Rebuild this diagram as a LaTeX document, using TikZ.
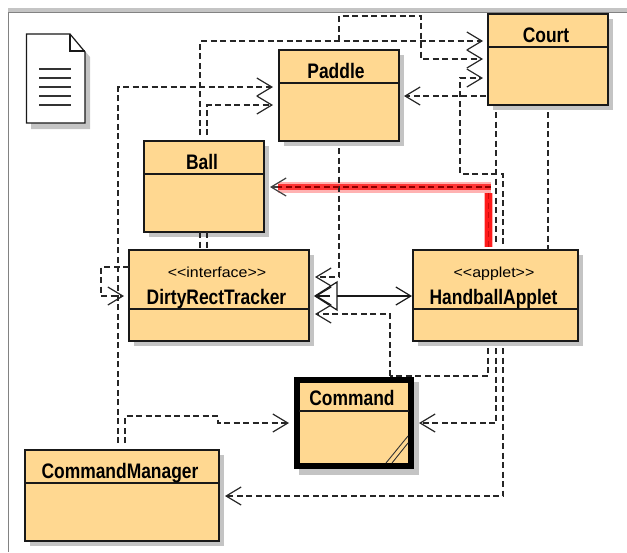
\documentclass[tikz,border=0pt]{standalone}
\usepackage{fontspec}
\setmainfont{Liberation Sans}
\newfontfamily\namefont[FakeStretch=0.83]{Liberation Sans}
\newfontfamily\kindfont[FakeStretch=1.1]{Liberation Sans}
\usetikzlibrary{arrows.meta}
\definecolor{classfill}{RGB}{255,216,145}
\definecolor{shadowgray}{RGB}{196,196,196}
\definecolor{framegray}{RGB}{130,130,130}
\tikzset{
	x=1pt, y=-1pt,
	classbox/.style={draw=black!90, line width=1.3pt, fill=classfill, inner sep=0pt, outer sep=0pt},
	boxshadow/.style={fill=shadowgray},
	divider/.style={draw=black!90, line width=1.2pt},
	classname/.style={font=\namefont\bfseries\fontsize{21}{21}\selectfont, inner sep=0pt, anchor=base},
	stereotype/.style={font=\kindfont\fontsize{14.5}{15}\selectfont, inner sep=0pt, anchor=base},
	dep/.style={draw=black!85, line width=1.1pt, dash pattern=on 6pt off 3.5pt},
	open/.style={-{Straight Barb[length=15pt, width=18pt, line width=1.2pt]}},
	glow/.style={draw=red, line width=11pt, opacity=0.3},
	glowcore/.style={draw=red, line width=6.5pt, opacity=0.7},
}
\newcommand{\umlclass}[6]{% name, x0, y0, x1, y1, divider y
	\fill[boxshadow] (#2+5,#3+5) rectangle (#4+5,#5+5);
	\node[classbox, minimum width=#4pt-#2pt, minimum height=#5pt-#3pt, anchor=north west] (#1) at (#2,#3) {};
	\draw[divider] (#2,#6) -- (#4,#6);
}
\begin{document}
\begin{tikzpicture}
	\useasboundingbox (0,0) rectangle (627,552);

	% frame
	\fill[shadowgray] (8,8) rectangle (627,12);
	\draw[framegray, line width=1pt] (627,12.5) -- (8.5,12.5) -- (8.5,552);

	% note icon
	\fill[boxshadow] (31,39) -- (75,39) -- (90,57) -- (90,129) -- (31,129) -- cycle;
	\draw[black!90, line width=1.2pt, fill=white] (26.5,34) -- (70,34) -- (85,52) -- (85,123) -- (26.5,123) -- cycle;
	\draw[black!90, line width=1.2pt] (70,34) -- (70,51) -- (85,51);
	\foreach \ypos in {69,78,87,96,105}
		\draw[black!80, line width=1.2pt] (39,\ypos) -- (71,\ypos);

	% classes
	\umlclass{ball}{144}{141}{264}{232}{174}
	\umlclass{paddle}{279}{50}{399}{141}{83}
	\umlclass{court}{488}{14}{608}{105}{47}
	\umlclass{tracker}{129}{250}{309}{341}{309}
	\umlclass{applet}{413}{250}{578}{341}{309}
	\umlclass{manager}{25}{450}{219}{541}{483}

	% command, heavy border
	\fill[boxshadow] (299,382) rectangle (419,475);
	\node[draw=black, line width=6pt, fill=classfill, inner sep=0pt, outer sep=0pt, minimum width=114pt, minimum height=86pt, anchor=north west] (command) at (297,380) {};
	\draw[divider] (299,411) -- (409,411);
	\draw[black!80, line width=0.9pt] (386,463) -- (408,436);
	\draw[black!80, line width=0.9pt] (392,463) -- (408,443);

	% names
	\node[classname] (courtname) at (546,42) {Court};
	\node[classname] (paddlename) at (336,78) {Paddle};
	\node[classname] (ballname) at (202,169) {Ball};
	\node[stereotype] (trackerkind) at (217,277) {<{}<interface>{}>};
	\node[classname] (trackername) at (216.5,304) {DirtyRectTracker};
	\node[stereotype] (appletkind) at (494,277) {<{}<applet>{}>};
	\node[classname] (appletname) at (493.5,304) {HandballApplet};
	\node[classname] (commandname) at (352,405) {Command};
	\node[classname] (managername) at (120,478) {CommandManager};

	% free ends of the connectors
	\coordinate (courtinA) at (483,41);
	\coordinate (courtinB) at (483,59);
	\coordinate (courtinC) at (483,78);
	\coordinate (courtoutL) at (496,112);
	\coordinate (courtoutR) at (548,112);
	\coordinate (courtleft) at (486,96);
	\coordinate (paddleinA) at (273,87);
	\coordinate (paddleinB) at (273,105);
	\coordinate (paddleout) at (404,96);
	\coordinate (paddledown) at (339,148);
	\coordinate (paddleup) at (339,41);
	\coordinate (ballin) at (270,187);
	\coordinate (ballupA) at (200,135);
	\coordinate (ballupB) at (207,135);
	\coordinate (trackerinA) at (315,277);
	\coordinate (trackerinB) at (315,296);
	\coordinate (trackerinC) at (315,314);
	\coordinate (trackerinD) at (124,296);
	\coordinate (trackerleft) at (129,267);
	\coordinate (triangleend) at (337,296);
	\coordinate (appletin) at (412,296);
	\coordinate (appletupA) at (488.5,247);
	\coordinate (appletupB) at (496,244);
	\coordinate (appletupC) at (503,244);
	\coordinate (appletdownA) at (488,348);
	\coordinate (appletdownB) at (496,348);
	\coordinate (appletdownC) at (503,348);
	\coordinate (commandup) at (390,376);
	\coordinate (commandinL) at (289,423);
	\coordinate (commandinR) at (419,423);
	\coordinate (managerin) at (225,496);
	\coordinate (managerupA) at (118,443);
	\coordinate (managerupB) at (125,443);
	\coordinate (bandcorner) at (491,187);
	\coordinate (bandstart) at (278,187);

	% highlight
	\draw[glow] (bandstart) -- (bandcorner);
	\draw[glowcore] (bandstart) -- (bandcorner);
	\draw[glow, line width=9pt] (488.5,193) -- (appletupA);
	\draw[glowcore, opacity=0.85] (488.5,193) -- (appletupA);

	% ball to court, ball to paddle
	\draw[dep, open] (ballupA) -- (200,41) -- (courtinA);
	\draw[dep, open] (ballupB) -- (207,105) -- (paddleinB);
	\draw[dep] (ball.south -| ballupA) -- (tracker.north -| ballupA);
	\draw[dep] (ball.south -| ballupB) -- (tracker.north -| ballupB);

	% manager to paddle, manager to command
	\draw[dep, open] (managerupA) -- (118,87) -- (paddleinA);
	\draw[dep, open] (managerupB) -- (125,416) -- (218,416) -- (218,423) -- (commandinL);

	% tracker to itself
	\draw[dep, open] (trackerleft) -- (101,267) -- (101,296) -- (trackerinD);

	% paddle and court
	\draw[dep, open] (paddleup) -- (339,16) -- (421,16) -- (421,59) -- (courtinB);
	\draw[dep, open] (courtleft) -- (paddleout);
	\draw[dep, open] (paddledown) -- (339,277) -- (trackerinA);

	% applet and court
	\draw[dep, open] (appletupC) -- (503,174) -- (460,174) -- (460,78) -- (courtinC);
	\draw[dep] (courtoutL) -- (appletupB);
	\draw[dep] (courtoutR) -- (applet.north -| courtoutR);

	% applet to ball
	\draw[dep, draw=red!55!black] (bandcorner) -- (bandstart);
	\draw[dep, open, draw=black!75] (bandstart) -- (ballin);
	\draw[dep, draw=red!70!black, opacity=0.6] (488.5,193) -- (appletupA);

	% applet and tracker
	\draw[black!90, line width=1.2pt, fill=white] (trackerinB) -- (337,282) -- (337,310) -- cycle;
	\draw[black!90, line width=1.2pt, open] (330,296) -- (trackerinB);
	\draw[black!90, line width=1.2pt, open] (triangleend) -- (appletin);
	\draw[dep, open] (commandup) -- (390,314) -- (trackerinC);

	% applet downwards
	\draw[dep] (appletdownA) -- (488,376) -- (commandup);
	\draw[dep, open] (appletdownB) -- (496,423) -- (commandinR);
	\draw[dep, open] (appletdownC) -- (503,496) -- (managerin);
\end{tikzpicture}
\end{document}
